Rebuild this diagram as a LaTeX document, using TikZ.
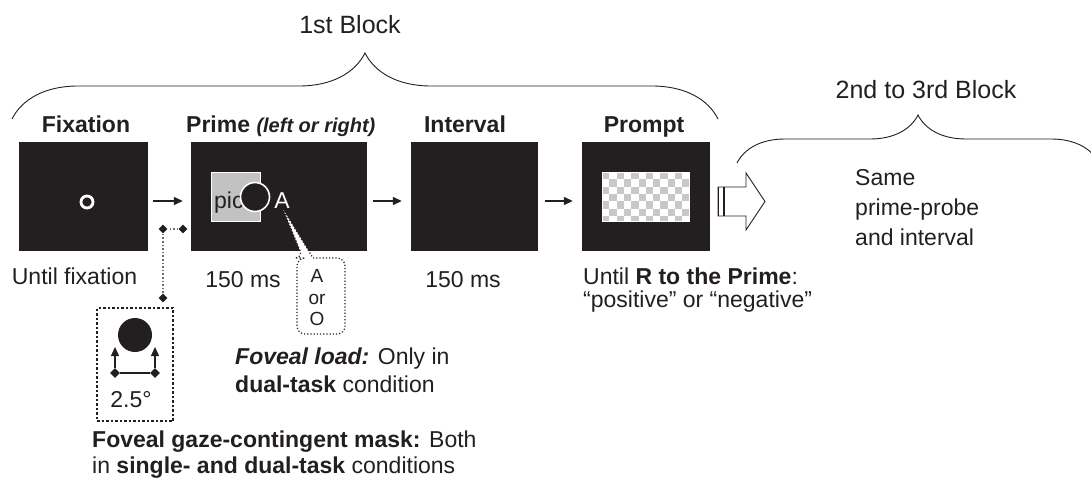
\documentclass[tikz,border=0pt]{standalone}
\usepackage{fontspec}
\setmainfont{Liberation Sans}
\usetikzlibrary{arrows.meta,positioning,shapes.geometric,decorations.pathreplacing}
\definecolor{Ink}{HTML}{231F20}
\definecolor{Check}{HTML}{C8C8C8}
\definecolor{PicGray}{HTML}{C2C2C2}
\definecolor{Dots}{HTML}{6E6E6E}

\tikzset{
  screen/.style={draw=Ink,fill=Ink,inner sep=0pt,minimum height=108pt},
  lbl/.style={text=Ink,inner sep=0pt,font=\fontsize{23}{28}\selectfont},
  head/.style={lbl,font=\fontsize{23}{28}\selectfont\bfseries},
  blk/.style={lbl,font=\fontsize{25}{30}\selectfont},
  flow/.style={Ink,line width=1.3pt,-{Triangle[length=9pt,width=8pt]}},
  dia/.style={diamond,fill=Ink,inner sep=0pt,minimum size=10pt},
  dotlink/.style={Dots,dotted,line width=1.6pt},
  bracket/.style={Ink,line width=0.9pt,decorate},
}

\begin{document}
\begin{tikzpicture}[x=1pt,y=-1pt]
  \useasboundingbox (0,0) rectangle (1091,481);
  \clip (0,0) rectangle (1091,481);

  % the four screens
  \node[screen,minimum width=128pt] (fix) at (83,196) {};
  \node[screen,minimum width=175pt] (prime) at (278.5,196) {};
  \node[screen,minimum width=126pt] (intv) at (474,196) {};
  \node[screen,minimum width=127pt] (prompt) at (645.5,196) {};

  % fixation ring
  \draw[white,line width=2.8pt] (87,202) circle[radius=6pt];

  % prime display
  \node[draw=white,fill=PicGray,minimum size=49pt,inner sep=0pt] (picsq) at (235.5,196.5) {};
  \node[lbl,anchor=base west] (pictxt) at (214,208) {pic};
  \node[circle,draw=white,fill=Ink,line width=1.6pt,minimum size=29pt,inner sep=0pt] (gaze) at (255,197) {};
  \node[lbl,text=white,anchor=base] (letA) at (282,208) {A};

  % prompt checkerboard
  \begin{scope}
    \clip (602,172) rectangle (689,221);
    \fill[white] (602,172) rectangle (689,221);
    \foreach \i in {0,...,11}
      \foreach \j in {0,...,6}{
        \pgfmathtruncatemacro{\cpar}{mod(\i+\j,2)}
        \ifnum\cpar=0 \fill[Check] (602+\i*7.3,172+\j*7.3) rectangle ++(7.3,7.3);\fi
      }
  \end{scope}
  \draw[white,line width=0.8pt] (602,172) rectangle (689,221);

  % arrows between screens
  \draw[flow,shorten <=6pt,shorten >=8pt] ([yshift=-5pt]fix.east) -- ([yshift=-5pt]prime.west);
  \draw[flow,shorten <=7pt,shorten >=9pt] ([yshift=-5pt]prime.east) -- ([yshift=-5pt]intv.west);
  \draw[flow,shorten <=8pt,shorten >=9pt] ([yshift=-5pt]intv.east) -- ([yshift=-5pt]prompt.west);

  % block arrow
  \draw[Ink,line width=0.9pt,fill=white] (718,187) -- (746,187) -- (746,173) -- (765,201.5)
    -- (746,230) -- (746,216) -- (718,216) -- cycle;
  \draw[Ink,line width=1.8pt] (718.5,187) -- (718.5,216);
  \draw[Ink,line width=1.8pt] (724,187) -- (724,216);

  % braces
  \coordinate (b1l) at (12,119);
  \coordinate (b1r) at (718,119);
  \coordinate (b2l) at (737,163);
  \coordinate (b2r) at (1099,163);
  \draw[bracket,decoration={brace,amplitude=66pt}] (b1l) -- (b1r);
  \draw[bracket,decoration={brace,amplitude=48pt}] (b2l) -- (b2r);
  \node[blk,anchor=base] (blk1) at (350,34) {1st Block};
  \node[blk,anchor=base] (blk2) at (926,99) {2nd to 3rd Block};

  % headings
  \node[head,anchor=base] (hfix) at (86,133) {Fixation};
  \node[head,anchor=base west] (hprime) at (186,133)
    {Prime {\fontsize{20}{22}\selectfont\itshape (left or right)}};
  \node[head,anchor=base] (hint) at (465,133) {Interval};
  \node[head,anchor=base] (hprompt) at (644,133) {Prompt};

  % durations
  \node[lbl,anchor=base] (cfix) at (74.5,284) {Until fixation};
  \node[lbl,anchor=base] (cprime) at (243,287) {150 ms};
  \node[lbl,anchor=base] (cint) at (463,287) {150 ms};
  \node[lbl,anchor=base west,align=left,font=\fontsize{23}{23}\selectfont] (cprompt) at (583,307)
    {Until \textbf{R to the Prime}:\\“positive” or “negative”};
  \node[lbl,anchor=base west,align=left,font=\fontsize{23}{30}\selectfont] (same) at (855,245)
    {Same\\prime-probe\\and interval};

  % foveal load callout
  \draw[Ink,dotted,line width=1.2pt,fill=white] (303,258) -- (283,209) -- (313,258)
    [rounded corners=8pt] -- (345,258) -- (345,334) -- (297,334) -- (297,258) -- cycle;
  \node[lbl,align=center,font=\fontsize{19}{21.5}\selectfont] (aor) at (317,298) {A\\or\\O};
  \node[lbl,anchor=base west,align=left,font=\fontsize{23}{28}\selectfont] (load) at (235,392)
    {\textbf{\itshape Foveal load:} Only in\\\textbf{dual-task} condition};

  % gaze-contingent mask
  \node[dia,minimum size=9pt] (dA) at (183,229) {};
  \node[dia,minimum size=9pt] (dB) at (163,229) {};
  \node[dia,minimum size=9pt] (dC) at (163,298) {};
  \draw[dotlink] (dA) -- (dB);
  \draw[dotlink] (dB) -- (dC);
  \node[draw=Ink,dotted,line width=2.5pt,minimum width=76pt,minimum height=113pt,inner sep=0pt] (mask) at (135,364.5) {};
  \node[circle,fill=Ink,minimum size=34pt,inner sep=0pt] (fovea) at (135,335) {};
  \node[dia] (m1) at (115,373) {};
  \node[dia] (m2) at (155,373) {};
  \coordinate (u1) at (115,347);
  \coordinate (u2) at (155,347);
  \draw[Ink,line width=1.3pt] (m1) -- (m2);
  \draw[flow] (m1) -- (u1);
  \draw[flow] (m2) -- (u2);
  \node[lbl,anchor=base] (deg) at (131,407) {2.5°};
  \node[lbl,anchor=base west,align=left,font=\fontsize{23}{26}\selectfont] (maskcap) at (92,473)
    {\textbf{Foveal gaze-contingent mask:} Both\\in \textbf{single- and dual-task} conditions};
\end{tikzpicture}
\end{document}
